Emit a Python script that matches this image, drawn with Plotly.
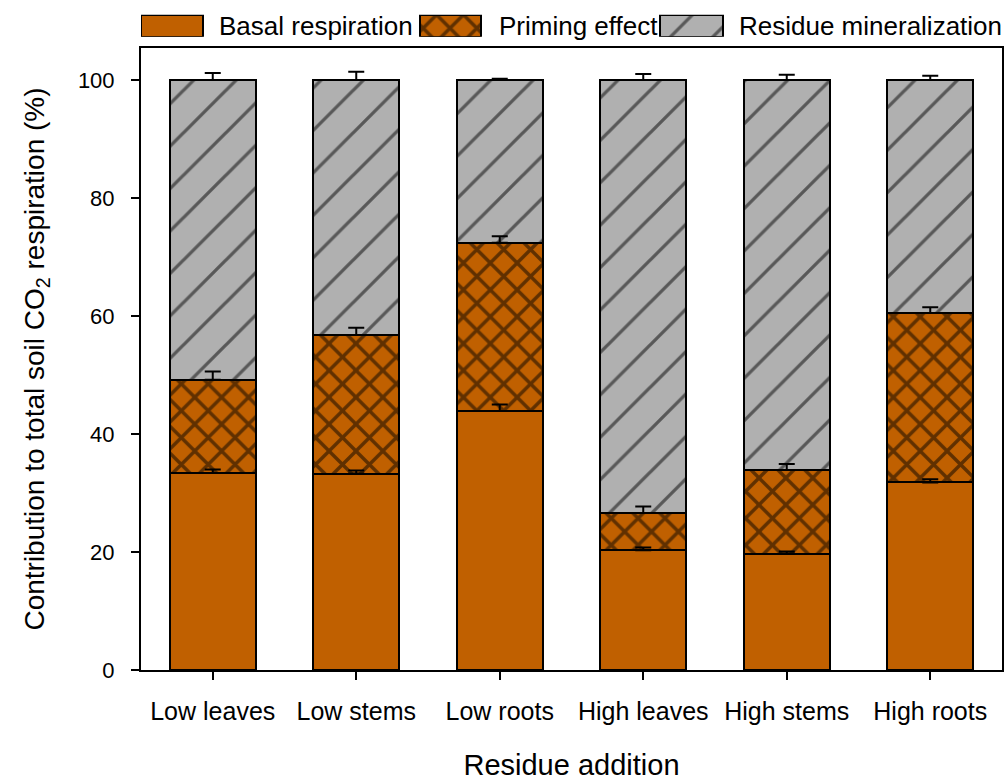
import plotly.graph_objects as go
import numpy as np

# Residue treatments
categories = ["Low leaves", "Low stems", "Low roots", "High leaves", "High stems", "High roots"]

# Contribution of each source to total soil CO2 respiration (%)
basal = [33.4, 33.3, 43.9, 20.3, 19.7, 31.8]
priming = [15.8, 23.5, 28.5, 6.3, 14.2, 28.7]
residue = [50.8, 43.2, 27.6, 73.4, 66.1, 39.5]

# Upper standard errors
basal_err = [0.6, 0.5, 1.1, 0.45, 0.4, 0.55]
priming_err = [1.4, 1.2, 1.1, 1.1, 1.0, 1.0]
residue_err = [1.2, 1.4, 0.2, 1.0, 0.9, 0.7]

series_names = ["Basal respiration", "Priming effect", "Residue mineralization"]

ORANGE = "#C06000"
GREY = "#B0B0B0"
FONT = "Liberation Sans, Arial, sans-serif"

styles = [
    dict(color=ORANGE, line=dict(color="black", width=2)),
    dict(color=ORANGE, line=dict(color="black", width=2),
         pattern=dict(shape="x", fgcolor="black", bgcolor=ORANGE, size=19, solidity=0.33)),
    dict(color=GREY, line=dict(color="black", width=2),
         pattern=dict(shape="/", fgcolor="black", bgcolor=GREY, size=30, solidity=0.11)),
]

fig = go.Figure()

values = [basal, priming, residue]
errors = [basal_err, priming_err, residue_err]

for name, vals, st in zip(series_names, values, styles):
    fig.add_trace(go.Bar(x=categories, y=vals, name=name, marker=st,
                         width=0.6, showlegend=False))

# Error bars drawn on top of every stacked segment
tops = np.cumsum(np.array(values), axis=0)
for name, top, err in zip(series_names, tops, errors):
    fig.add_trace(go.Scatter(
        x=categories, y=top, mode="markers", marker=dict(opacity=0, size=1),
        error_y=dict(type="data", symmetric=False, array=err,
                     arrayminus=[0] * len(err), color="black", thickness=2, width=8),
        showlegend=False, hoverinfo="skip", name=name))

# Key drawn across the top with patterned swatches
key_pos = [31, 309.5, 550.5]
key_width = [62, 61, 63]
key_text_x = [76, 356, 596]
for name, st, kx, kw in zip(series_names, styles, key_pos, key_width):
    fig.add_trace(go.Bar(x=[kx], y=[1], width=[kw], marker=st, xaxis="x2", yaxis="y2",
                         showlegend=False, hoverinfo="skip"))
annotations = [
    dict(x=tx, y=0.5, xref="x2", yref="y2", text=name, showarrow=False,
         xanchor="left", yanchor="middle", font=dict(size=26, color="black", family=FONT))
    for name, tx in zip(series_names, key_text_x)
]

top_frac = 622 / 670

fig.update_layout(
    width=1005, height=781,
    margin=dict(l=141, r=3, t=0, b=111),
    paper_bgcolor="white", plot_bgcolor="white",
    barmode="stack", bargap=0.4,
    font=dict(family=FONT, color="black"),
    annotations=annotations,
    xaxis=dict(
        domain=[0, 1], range=[-0.5, 5.5],
        showline=True, linecolor="black", linewidth=2, mirror=True,
        ticks="outside", ticklen=8, tickwidth=2, tickcolor="black",
        ticklabelstandoff=10,
        tickfont=dict(size=25, family=FONT, color="black"),
        title=dict(text="Residue addition", font=dict(size=29, family=FONT, color="black"),
                   standoff=36),
        showgrid=False, zeroline=False,
    ),
    yaxis=dict(
        domain=[0, top_frac], range=[0, 622 / 5.9],
        tickvals=[0, 20, 40, 60, 80, 100],
        showline=True, linecolor="black", linewidth=2, mirror=True,
        ticks="outside", ticklen=8, tickwidth=2, tickcolor="black",
        ticklabelstandoff=12,
        tickfont=dict(size=22, family=FONT, color="black"),
        title=dict(text="Contribution to total soil CO<sub>2</sub> respiration (%)",
                   font=dict(size=28, family=FONT, color="black"), standoff=25),
        showgrid=False, zeroline=False,
    ),
    xaxis2=dict(domain=[0, 1], range=[0, 861], anchor="y2", visible=False, fixedrange=True),
    yaxis2=dict(domain=[0.945, 0.978], range=[0, 1], anchor="x2", visible=False, fixedrange=True),
)

fig.write_html("out.html")
